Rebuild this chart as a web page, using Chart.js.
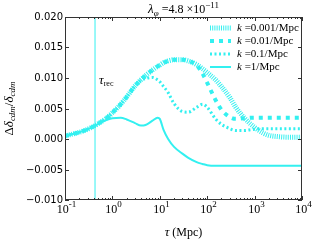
<!DOCTYPE html>
<html>
<head>
<meta charset="utf-8">
<script src="https://cdn.jsdelivr.net/npm/chart.js@4/dist/chart.umd.min.js"></script>
<style>
  body { margin: 0; background: #fff; }
  #wrap { width: 316px; height: 241px; }
</style>
</head>
<body>
<div id="wrap"><canvas id="c" width="316" height="241"></canvas></div>
<script>
// tau grid (Mpc) and the four k curves
const tau = [0.1, 0.2, 0.3, 0.43, 0.6, 0.8, 1, 1.5, 2, 3, 4, 5, 7, 9, 10, 12, 15, 20, 30, 40,
  60, 80, 100, 150, 200, 300, 400, 600, 1000, 1500, 2000, 3000, 5000, 10000];

const k0001 = [0.0005, 0.0011, 0.0016, 0.0022, 0.0029, 0.0036, 0.0043, 0.0057, 0.0069, 0.0087,
  0.0097, 0.0104, 0.0113, 0.0119, 0.0121, 0.0125, 0.0128, 0.0130, 0.0130, 0.0128,
  0.0122, 0.0115, 0.0109, 0.0097, 0.0086, 0.0068, 0.0052, 0.0035, 0.0019, 0.0010,
  0.0006, 0.0004, 0.0003, 0.0003];

const k001 = [0.0005, 0.0011, 0.0016, 0.0022, 0.0029, 0.0036, 0.0043, 0.0057, 0.0069, 0.0087,
  0.0097, 0.0104, 0.0113, 0.0119, 0.0121, 0.0125, 0.0128, 0.0130, 0.0130, 0.0128,
  0.0121, 0.0107, 0.0092, 0.0064, 0.0048, 0.0036, 0.0033, 0.0034, 0.0035, 0.0035,
  0.0035, 0.0035, 0.0035, 0.0035];

const k01 = [0.0005, 0.0011, 0.0016, 0.0022, 0.0029, 0.0036, 0.0043, 0.0057, 0.0069, 0.0087,
  0.0096, 0.0099, 0.0101, 0.0097, 0.0094, 0.0086, 0.0076, 0.0058, 0.0045, 0.0044,
  0.0052, 0.0057, 0.0052, 0.0033, 0.0024, 0.0017, 0.0014, 0.0014, 0.0016, 0.0017,
  0.0017, 0.0017, 0.0017, 0.0017];

const k1 = [0.0005, 0.0011, 0.0016, 0.0022, 0.0028, 0.0032, 0.0034, 0.0035, 0.0032, 0.0026,
  0.0022, 0.0023, 0.0030, 0.0035, 0.0033, 0.0015, 0.0000, -0.0013, -0.0024, -0.0031,
  -0.0038, -0.0041, -0.0043, -0.0044, -0.0044, -0.0044, -0.0044, -0.0044, -0.0044, -0.0044,
  -0.0044, -0.0044, -0.0044, -0.0044];

const labels = ['0.001', '0.01', '0.1', '1'];
const yTicks = [-0.010, -0.005, 0.000, 0.005, 0.010, 0.015, 0.020];
const xDecades = [-1, 0, 1, 2, 3, 4];
const tauRec = 0.43;

const cyan = '#33f0f0';
const serif = '"Liberation Serif", serif';
const sans = '"DejaVu Sans", sans-serif';

function pts(vals) {
  return tau.map((t, i) => ({ x: t, y: vals[i] }));
}

// draw a run of text pieces with different fonts / offsets
function rich(ctx, parts, x, y, align) {
  let w = 0;
  parts.forEach(p => { ctx.font = p.f; w += ctx.measureText(p.t).width; });
  let cx = align === 'center' ? x - w / 2 : (align === 'right' ? x - w : x);
  ctx.textAlign = 'left';
  parts.forEach(p => {
    ctx.font = p.f;
    ctx.fillText(p.t, cx, y + (p.dy || 0));
    cx += ctx.measureText(p.t).width;
  });
}

const decor = {
  id: 'decor',
  beforeDatasetsDraw(chart) {
    const { ctx, chartArea: a, scales: { x } } = chart;
    const px = x.getPixelForValue(tauRec);
    ctx.save();
    ctx.strokeStyle = cyan;
    ctx.lineWidth = 1;
    ctx.beginPath();
    ctx.moveTo(px, a.top);
    ctx.lineTo(px, a.bottom);
    ctx.stroke();
    ctx.fillStyle = '#000';
    ctx.textBaseline = 'alphabetic';
    rich(ctx, [
      { t: 'τ', f: 'italic 13px ' + serif },
      { t: 'rec', f: '8px ' + serif, dy: 2 }
    ], px + 4, 84, 'left');
    ctx.restore();
  },
  afterDraw(chart) {
    const { ctx, chartArea: a, scales: { x, y } } = chart;
    ctx.save();
    // frame
    ctx.strokeStyle = '#333';
    ctx.lineWidth = 1;
    ctx.strokeRect(a.left + 0.5, a.top + 0.5, a.right - a.left - 1, a.bottom - a.top - 1);

    // y ticks + labels
    ctx.fillStyle = '#000';
    ctx.font = '10px ' + sans;
    ctx.textAlign = 'right';
    ctx.textBaseline = 'middle';
    yTicks.forEach(v => {
      const py = Math.round(y.getPixelForValue(v)) + 0.5;
      ctx.beginPath();
      ctx.moveTo(a.left, py); ctx.lineTo(a.left + 4, py);
      ctx.moveTo(a.right, py); ctx.lineTo(a.right - 4, py);
      ctx.stroke();
      ctx.fillText(v.toFixed(3).replace('-', '\u2212'), a.left - 2, py);
    });

    // x ticks (major + minor) + labels
    xDecades.forEach(d => {
      const base = Math.pow(10, d);
      const px = Math.round(x.getPixelForValue(base)) + 0.5;
      ctx.beginPath();
      ctx.moveTo(px, a.bottom); ctx.lineTo(px, a.bottom - 4);
      ctx.moveTo(px, a.top); ctx.lineTo(px, a.top + 4);
      ctx.stroke();
      if (d < 4) {
        for (let m = 2; m < 10; m++) {
          const mx = Math.round(x.getPixelForValue(base * m)) + 0.5;
          ctx.beginPath();
          ctx.moveTo(mx, a.bottom); ctx.lineTo(mx, a.bottom - 2);
          ctx.moveTo(mx, a.top); ctx.lineTo(mx, a.top + 2);
          ctx.stroke();
        }
      }
      ctx.textBaseline = 'alphabetic';
      rich(ctx, [
        { t: '10', f: '12px ' + serif },
        { t: String(d), f: '9px ' + serif, dy: -6 }
      ], px + 1, a.bottom + 13, 'center');
    });

    // axis titles
    rich(ctx, [
      { t: 'τ', f: 'italic 13px ' + serif },
      { t: ' (Mpc)', f: '12px ' + serif }
    ], (a.left + a.right) / 2, 236, 'center');

    rich(ctx, [
      { t: 'λ', f: 'italic 13px ' + serif },
      { t: 'φ', f: 'italic 9px ' + serif, dy: 3 },
      { t: ' =4.8 ×10', f: '12px ' + serif },
      { t: '\u221211', f: '9px ' + serif, dy: -5 }
    ], (a.left + a.right) / 2, 13, 'center');

    ctx.save();
    ctx.translate(13, (a.top + a.bottom) / 2);
    ctx.rotate(-Math.PI / 2);
    rich(ctx, [
      { t: 'Δ', f: '13px ' + serif },
      { t: 'δ', f: 'italic 13px ' + serif },
      { t: 'cdm', f: 'italic 9px ' + serif, dy: 2 },
      { t: '/', f: '13px ' + serif },
      { t: 'δ', f: 'italic 13px ' + serif },
      { t: 'cdm', f: 'italic 9px ' + serif, dy: 2 }
    ], 0, 0, 'center');
    ctx.restore();

    // legend
    chart.data.datasets.forEach((ds, i) => {
      const ly = 28 + i * 13;
      ctx.strokeStyle = ds.borderColor;
      ctx.lineWidth = ds.borderWidth;
      ctx.setLineDash(ds.borderDash || []);
      ctx.beginPath();
      ctx.moveTo(210, ly); ctx.lineTo(231, ly);
      ctx.stroke();
      ctx.setLineDash([]);
      ctx.fillStyle = '#000';
      ctx.textBaseline = 'middle';
      rich(ctx, [
        { t: 'k', f: 'italic 11px ' + serif },
        { t: ' =' + labels[i] + '/Mpc', f: '11px ' + serif }
      ], 237, ly, 'left');
    });
    ctx.restore();
  }
};

new Chart(document.getElementById('c'), {
  type: 'line',
  data: {
    datasets: [
      { label: 'k=0.001/Mpc', data: pts(k0001), borderColor: cyan, borderWidth: 5, borderDash: [1, 1.2] },
      { label: 'k=0.01/Mpc', data: pts(k001), borderColor: cyan, borderWidth: 4, borderDash: [4, 5] },
      { label: 'k=0.1/Mpc', data: pts(k01), borderColor: cyan, borderWidth: 3, borderDash: [2, 2.5] },
      { label: 'k=1/Mpc', data: pts(k1), borderColor: cyan, borderWidth: 2 }
    ]
  },
  options: {
    responsive: false,
    animation: false,
    devicePixelRatio: 1,
    cubicInterpolationMode: 'monotone',
    elements: { point: { radius: 0 } },
    layout: { padding: { left: 57, right: 14, top: 17, bottom: 33 } },
    plugins: { legend: { display: false }, tooltip: { enabled: false } },
    scales: {
      x: {
        type: 'logarithmic', min: 0.1, max: 10000,
        ticks: { display: false }, grid: { display: false }, border: { display: false }
      },
      y: {
        min: -0.01, max: 0.02,
        ticks: { display: false }, grid: { display: false }, border: { display: false }
      }
    }
  },
  plugins: [decor]
});
</script>
</body>
</html>
